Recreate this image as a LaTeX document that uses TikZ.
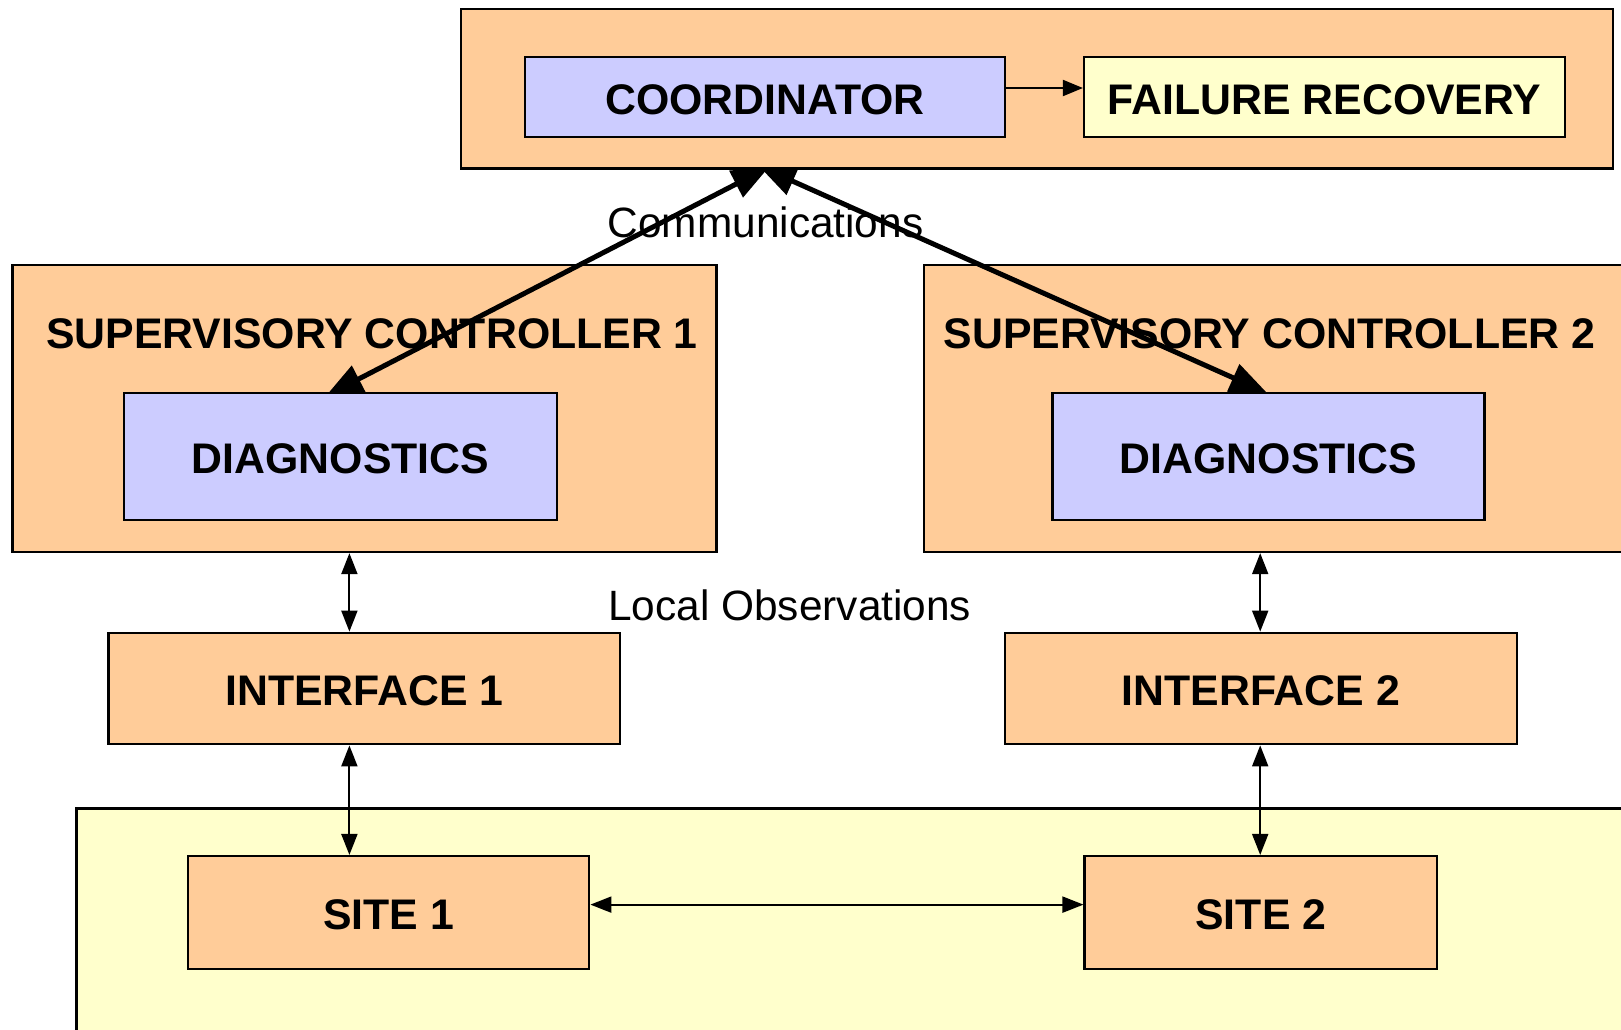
\documentclass[tikz,border=0pt]{standalone}
\usepackage{fontspec}
\setmainfont{Liberation Sans}
\usetikzlibrary{arrows.meta,calc}
\pgfdeclarelayer{background}
\pgfdeclarelayer{foreground}
\pgfsetlayers{background,main,foreground}
\definecolor{peach}{HTML}{FFCC99}
\definecolor{lav}{HTML}{CCCCFF}
\definecolor{paleyel}{HTML}{FFFFCC}
\begin{document}
\begin{tikzpicture}[x=0.5pt,y=-0.5pt,
  blk/.style 2 args={draw=black, line width=1.1pt, rectangle, inner sep=0pt,
    minimum width=#1*0.5pt, minimum height=#2*0.5pt,
    text height=17.2pt, text depth=0pt,
    font=\fontsize{21.4}{25}\selectfont\bfseries},
  title/.style={inner sep=0pt, font=\fontsize{21.4}{25}\selectfont\bfseries},
  lbl/.style={inner sep=0pt, font=\fontsize{21.2}{25}\selectfont},
  thinarr/.style={line width=1pt, {Triangle[length=10.5pt,width=8pt]}-{Triangle[length=10.5pt,width=8pt]}},
  onearr/.style={line width=1pt, -{Triangle[length=10pt,width=8pt]}},
  thickarr/.style={line width=2.5pt, {Triangle[length=18.5pt,width=14.5pt]}-{Triangle[length=18.5pt,width=14.5pt]}}
]
\useasboundingbox (0,0) rectangle (1621,1029);

\begin{pgfonlayer}{background}
  \node[blk={704}{287.3}, fill=peach] (sup1) at (364.4,408.4) {};
  \node[blk={716}{287.3}, fill=peach] (sup2) at (1282,408.4) {};
  \node[title] (t1) at (372,334) {SUPERVISORY CONTROLLER 1};
  \node[title] (t2) at (1269.5,334) {SUPERVISORY CONTROLLER 2};
  \node[blk={1583.5}{251.6}, fill=paleyel] (plant) at (868.3,934.2) {};
  \node[lbl] (comm) at (765.5,222) {Communications};
  \node[lbl] (lobs) at (789.8,605.8) {Local Observations};
\end{pgfonlayer}

\begin{pgfonlayer}{foreground}
  \node[blk={1152}{159.2}, fill=peach] (top) at (1037,88.9) {};
  \node[blk={480}{80}, fill=lav] (coord) at (765,97) {COORDINATOR};
  \node[blk={481}{80}, fill=paleyel] (fail) at (1324.5,97) {FAILURE RECOVERY};
  \node[blk={433}{127.2}, fill=lav] (diag1) at (340.5,456.4) {DIAGNOSTICS};
  \node[blk={432}{127.2}, fill=lav] (diag2) at (1268.5,456.4) {DIAGNOSTICS};
  \node[blk={511.8}{111.6}, fill=peach] (intf1) at (364.4,688.5) {INTERFACE 1};
  \node[blk={511.7}{111.6}, fill=peach] (intf2) at (1260.8,688.5) {INTERFACE 2};
  \node[blk={401}{112.7}, fill=peach] (site1) at (388.8,912.4) {SITE 1};
  \node[blk={352.5}{112.7}, fill=peach] (site2) at (1260.8,912.4) {SITE 2};

  \coordinate (v1) at (349.4,0);
  \coordinate (v2) at (1260.2,0);
  \coordinate (h1) at (0,904.6);
  \coordinate (c1) at (0,88);
  \draw[thinarr] (sup1.south -| v1) -- (intf1.north -| v1);
  \draw[thinarr] (intf1.south -| v1) -- (site1.north -| v1);
  \draw[thinarr] (sup2.south -| v2) -- (intf2.north -| v2);
  \draw[thinarr] (intf2.south -| v2) -- (site2.north -| v2);
  \draw[thinarr] (site1.east |- h1) -- (site2.west |- h1);
  \draw[onearr] (coord.east |- c1) -- (fail.west |- c1);
\end{pgfonlayer}

\coordinate (L1) at ($(diag1.north west)+(203,4.2)$);
\coordinate (L2) at ($(top.south west)+(309,-2.5)$);
\coordinate (R1) at ($(top.south west)+(299,-3.5)$);
\coordinate (R2) at ($(diag2.north west)+(215.6,1.2)$);
\draw[thickarr] (L1) -- (L2);
\draw[thickarr] (R1) -- (R2);
\end{tikzpicture}
\end{document}
